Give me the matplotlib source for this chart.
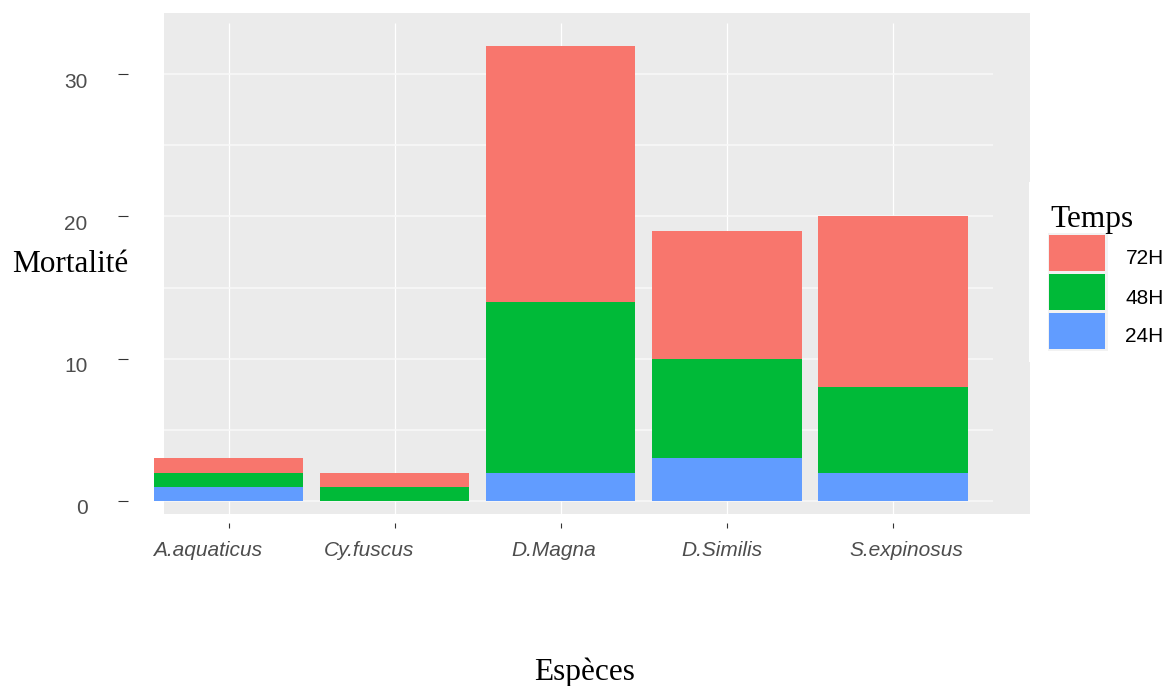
import numpy as np
import matplotlib
matplotlib.use("Agg")
import matplotlib.pyplot as plt
from matplotlib.patches import Rectangle
from matplotlib.transforms import ScaledTranslation

# ---- data -------------------------------------------------------------
especes = ["A.aquaticus", "Cy.fuscus", "D.Magna", "D.Similis", "S.expinosus"]
h24 = [1, 0, 2, 3, 2]
h48 = [1, 1, 12, 7, 6]
h72 = [1, 1, 18, 9, 12]
temps_labels = ["72H", "48H", "24H"]
y_ticks = [0, 10, 20, 30]
y_grid = [0, 5, 10, 15, 20, 25, 30]

# ---- style ------------------------------------------------------------
COL = {"72H": "#F8766D", "48H": "#00BA38", "24H": "#619CFF"}
PANEL = "#EBEBEB"
W, H, DPI = 1167, 686, 100
SANS = "Liberation Sans"
SERIF = "Liberation Serif"
FS = 15.0        # tick / legend labels (pt)
FS_TITLE = 22.5  # axis titles (pt)

fig = plt.figure(figsize=(W / DPI, H / DPI), dpi=DPI, facecolor="white")

def fx(px):
    return px / W

def fy(py):
    return 1 - py / H

# layout in pixels
ax_left, ax_right, ax_top, ax_bottom = 128, 1030, 13, 523
x0_px, x_step = 228.5, 166.1     # first category centre, spacing
y0_px, y_step = 501.0, 14.23     # baseline, pixels per unit

ax = fig.add_axes([fx(ax_left), fy(ax_bottom),
                   (ax_right - ax_left) / W, (ax_bottom - ax_top) / H])
ax.set_facecolor("none")
for s in ax.spines.values():
    s.set_visible(False)

def dx(px):
    return (px - x0_px) / x_step

def dy(py):
    return (y0_px - py) / y_step

ax.set_xlim(dx(ax_left), dx(ax_right))
ax.set_ylim(dy(ax_bottom), dy(ax_top))

# grey panel and grid
ax.add_patch(Rectangle((dx(164), dy(514)), dx(1030) - dx(164), dy(13) - dy(514),
                       facecolor=PANEL, edgecolor="none", zorder=0, clip_on=False))
x = np.arange(len(especes))
ax.vlines(x, dy(514), dy(23), color="white", lw=0.9, zorder=1)
ax.hlines(y_grid, dx(164), dx(993), color="#F8F8F8", lw=1.2, zorder=1)

# stacked bars
b24 = np.array(h24)
b48 = np.array(h48)
b72 = np.array(h72)
ax.bar(x, b24, width=0.9, color=COL["24H"], zorder=2, clip_on=False)
ax.bar(x, b48, width=0.9, bottom=b24, color=COL["48H"], zorder=2, clip_on=False)
ax.bar(x, b72, width=0.9, bottom=b24 + b48, color=COL["72H"], zorder=2, clip_on=False)

# ticks
ax.set_yticks(y_ticks)
ax.set_yticklabels([str(v) for v in y_ticks])
ax.set_xticks(x)
ax.set_xticklabels(especes)
ax.tick_params(axis="y", length=7.2, width=0.8, color="#333333", pad=22,
               labelsize=FS, labelcolor="#4D4D4D")
ax.tick_params(axis="x", length=3.6, width=0.8, color="#333333", pad=9,
               labelsize=FS, labelcolor="#4D4D4D")
for lab in ax.get_yticklabels():
    lab.set_fontfamily(SANS)
    lab.set_transform(lab.get_transform() + ScaledTranslation(0, -6 / DPI, fig.dpi_scale_trans))
x_shift = [-21, -26, -7, -5, 13.5]
for lab, sh in zip(ax.get_xticklabels(), x_shift):
    lab.set_fontfamily(SANS)
    lab.set_fontstyle("italic")
    lab.set_transform(lab.get_transform() + ScaledTranslation(sh / DPI, 0, fig.dpi_scale_trans))

# axis titles
fig.text(fx(12.5), fy(271.7), "Mortalité", family=SERIF, fontsize=FS_TITLE,
         ha="left", va="baseline", color="black")
fig.text(fx(585), fy(680), "Espèces", family=SERIF, fontsize=FS_TITLE,
         ha="center", va="baseline", color="black")

# legend
fig.patches.append(Rectangle((fx(1029), fy(362)), fx(1167) - fx(1029), fy(182) - fy(362),
                             transform=fig.transFigure, facecolor="white",
                             edgecolor="none", zorder=3))
fig.text(fx(1050), fy(227), "Temps", family=SERIF, fontsize=FS_TITLE,
         ha="left", va="baseline", color="black", zorder=5)
fig.patches.append(Rectangle((fx(1048), fy(351)), fx(1108) - fx(1048), fy(233) - fy(351),
                             transform=fig.transFigure, facecolor="#F2F2F2",
                             edgecolor="none", zorder=4))
key_tops = [235, 274, 313]
for lab, top in zip(temps_labels, key_tops):
    fig.patches.append(Rectangle((fx(1049), fy(top + 36)), fx(1105) - fx(1049),
                                 fy(top) - fy(top + 36), transform=fig.transFigure,
                                 facecolor=COL[lab], edgecolor="none", zorder=5))
    fig.text(fx(1125.5), fy(top + 29.5), lab, family=SANS, fontsize=FS,
             ha="left", va="baseline", color="black", zorder=5)

fig.savefig("out.png", dpi=DPI, facecolor="white")
